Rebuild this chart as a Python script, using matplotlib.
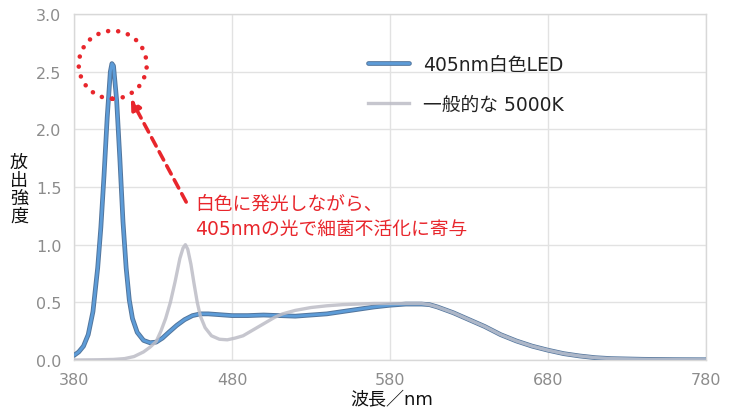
import matplotlib
matplotlib.use("Agg")
import matplotlib.pyplot as plt
from matplotlib.patches import Ellipse
import matplotlib.patheffects as pe

plt.rcParams['font.family'] = ['DejaVu Sans', 'Noto Sans CJK JP']

# 405nm white LED spectrum
led_wl = [380, 383, 386, 389, 392, 395, 397, 399, 401, 403, 404, 405, 407, 409,
          411, 413, 415, 417, 420, 424, 428, 432, 436, 440, 445, 450, 455, 460,
          465, 470, 480, 490, 500, 510, 520, 530, 540, 550, 560, 570, 580, 590,
          600, 605, 610, 620, 630, 640, 650, 660, 670, 680, 690, 700, 710, 720,
          740, 760, 780]
led_val = [0.04, 0.07, 0.12, 0.22, 0.42, 0.80, 1.15, 1.60, 2.10, 2.50, 2.57, 2.55,
           2.25, 1.75, 1.20, 0.80, 0.52, 0.36, 0.24, 0.17, 0.15, 0.155, 0.19, 0.24,
           0.30, 0.35, 0.385, 0.40, 0.40, 0.395, 0.385, 0.385, 0.39, 0.385, 0.38,
           0.39, 0.40, 0.42, 0.44, 0.46, 0.475, 0.485, 0.485, 0.48, 0.46, 0.41,
           0.35, 0.29, 0.22, 0.165, 0.12, 0.085, 0.055, 0.035, 0.02, 0.012, 0.006,
           0.003, 0.002]

# typical 5000K white LED spectrum
std_wl = [380, 395, 405, 412, 418, 424, 428, 432, 435, 438, 441, 444, 447, 449,
          450.5, 452, 454, 456, 458, 460, 463, 467, 472, 477, 482, 487, 492, 497,
          502, 507, 512, 520, 530, 540, 550, 560, 570, 580, 590, 600, 605, 610,
          620, 630, 640, 650, 660, 670, 680, 690, 700, 710, 720, 740, 760, 780]
std_val = [0.0, 0.002, 0.005, 0.012, 0.03, 0.07, 0.11, 0.16, 0.25, 0.36, 0.50,
           0.68, 0.88, 0.97, 1.00, 0.96, 0.83, 0.66, 0.50, 0.38, 0.28, 0.21, 0.18,
           0.175, 0.19, 0.21, 0.25, 0.29, 0.33, 0.37, 0.40, 0.43, 0.455, 0.47,
           0.48, 0.485, 0.49, 0.49, 0.49, 0.49, 0.48, 0.46, 0.41, 0.35, 0.29, 0.22,
           0.165, 0.12, 0.085, 0.055, 0.035, 0.02, 0.012, 0.006, 0.003, 0.002]

x_ticks = [380, 480, 580, 680, 780]
y_ticks = [0.0, 0.5, 1.0, 1.5, 2.0, 2.5, 3.0]

series_labels = ['405nm白色LED', '一般的な 5000K']
note_lines = ['白色に発光しながら、', '405nmの光で細菌不活化に寄与']

W, H = 733, 410
fig = plt.figure(figsize=(W / 100, H / 100), dpi=100)
ax = fig.add_axes([74 / W, 1 - 361 / H, (706 - 74) / W, (361 - 15) / H])

ax.set_xlim(x_ticks[0], x_ticks[-1])
ax.set_ylim(y_ticks[0], y_ticks[-1])
ax.set_xticks(x_ticks)
ax.set_yticks(y_ticks)
ax.set_yticklabels([f"{v:.1f}" for v in y_ticks])
ax.tick_params(length=0, labelsize=11.5, labelcolor='#8c8c8c', pad=9)
ax.grid(True, color='#e2e2e2', linewidth=1.0)
ax.set_axisbelow(True)
for s in ax.spines.values():
    s.set_color('#d8d8d8')
    s.set_linewidth(1.0)

blue, = ax.plot(led_wl, led_val, color='#5d9cd8', linewidth=2.0,
                solid_capstyle='round', zorder=3,
                path_effects=[pe.Stroke(linewidth=3.4, foreground='#52759c'),
                              pe.Normal()])
gray, = ax.plot(std_wl, std_val, color='#bcbcc6', linewidth=2.4, alpha=0.85,
                zorder=4)

leg = ax.legend([blue, gray], series_labels, loc='upper left',
                bbox_to_anchor=(368 / W, 1 - 56 / H),
                bbox_transform=fig.transFigure, frameon=False, fontsize=13.5,
                handlelength=2.2, handletextpad=0.75, labelspacing=1.1,
                borderpad=0, borderaxespad=0)
for t in leg.get_texts():
    t.set_color('#222222')

# dotted circle around the 405nm peak
px_per_nm = (706 - 74) / 400
px_per_unit = (361 - 15) / 3.0
circ = Ellipse((404.5, 2.56), width=68 / px_per_nm, height=68 / px_per_unit,
               fill=False, edgecolor='#e8262c', linewidth=3.3,
               linestyle=(0, (0.01, 2.2)), capstyle='round', zorder=6)
ax.add_patch(circ)

# dashed arrow pointing at the circle
ax.annotate('', xy=(416.0, (361 - 100) / px_per_unit),
            xytext=(451, (361 - 203) / px_per_unit),
            arrowprops=dict(arrowstyle='-|>,head_length=0.6,head_width=0.3',
                            color='#e8262c', linewidth=2.6,
                            linestyle=(0, (2.6, 1.8)), shrinkA=0, shrinkB=0),
            zorder=6)

fig.text(195 / W, 1 - 204 / H, note_lines[0], color='#e8262c', fontsize=13.5,
         ha='left', va='center')
fig.text(195 / W, 1 - 230 / H, note_lines[1], color='#e8262c', fontsize=13.5,
         ha='left', va='center')

fig.text(19 / W, 1 - 190 / H, '放\n出\n強\n度', color='#111111', fontsize=13,
         ha='center', va='center', linespacing=1.0,
         family=['Noto Sans CJK JP'])
fig.text(392 / W, 1 - 400 / H, '波長／nm', color='#111111', fontsize=13,
         ha='center', va='center')

fig.savefig('out.png', dpi=100)
